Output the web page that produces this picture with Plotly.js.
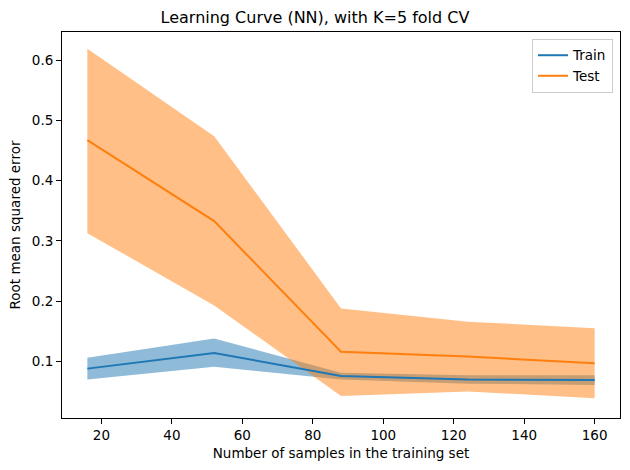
<!DOCTYPE html>
<html>
<head>
<meta charset="utf-8">
<script src="https://cdn.plot.ly/plotly-3.0.1.min.js"></script>
<style>html,body{margin:0;padding:0;background:#fff;}#chart{width:630px;height:470px;}</style>
</head>
<body>
<div id="chart"></div>
<script>
const trainSizes = [16, 52, 88, 124, 160];
const trainMean = [0.088, 0.114, 0.0757, 0.070, 0.069];
const trainUpper = [0.106, 0.138, 0.081, 0.0768, 0.077];
const trainLower = [0.070, 0.091, 0.070, 0.063, 0.061];
const testMean = [0.4675, 0.333, 0.116, 0.108, 0.097];
const testUpper = [0.619, 0.474, 0.188, 0.166, 0.155];
const testLower = [0.313, 0.193, 0.0426, 0.050, 0.039];

const blue = '#1f77b4', orange = '#ff7f0e';
const traces = [
  {x: trainSizes, y: trainLower, mode: 'lines', line: {width: 0, color: blue}, showlegend: false, hoverinfo: 'skip'},
  {x: trainSizes, y: trainUpper, mode: 'lines', line: {width: 0, color: blue}, fill: 'tonexty', fillcolor: 'rgba(31,119,180,0.5)', showlegend: false, hoverinfo: 'skip'},
  {x: trainSizes, y: testLower, mode: 'lines', line: {width: 0, color: orange}, showlegend: false, hoverinfo: 'skip'},
  {x: trainSizes, y: testUpper, mode: 'lines', line: {width: 0, color: orange}, fill: 'tonexty', fillcolor: 'rgba(255,127,14,0.5)', showlegend: false, hoverinfo: 'skip'},
  {x: trainSizes, y: trainMean, mode: 'lines', name: 'Train', line: {width: 2, color: blue}},
  {x: trainSizes, y: testMean, mode: 'lines', name: 'Test', line: {width: 2, color: orange}}
];

const font = {family: 'DejaVu Sans', size: 13.5, color: '#000'};
const layout = {
  width: 630, height: 470,
  margin: {l: 62, r: 10, t: 32, b: 52},
  paper_bgcolor: '#fff', plot_bgcolor: '#fff',
  font: font,
  title: {text: 'Learning Curve (NN), with K=5 fold CV', font: {family: 'DejaVu Sans', size: 16, color: '#000'}, x: 0.5, xanchor: 'center', y: 0.963, yanchor: 'middle'},
  xaxis: {
    range: [8.8, 167.2], tickvals: [20, 40, 60, 80, 100, 120, 140, 160],
    showgrid: false, zeroline: false, showline: true, mirror: true, linecolor: '#000', linewidth: 1,
    ticks: 'outside', ticklen: 5, tickwidth: 1, tickcolor: '#000',
    title: {text: 'Number of samples in the training set', font: font, standoff: 6},
    automargin: false
  },
  yaxis: {
    range: [0.006, 0.647], tickvals: [0.1, 0.2, 0.3, 0.4, 0.5, 0.6], tickformat: '.1f',
    showgrid: false, zeroline: false, showline: true, mirror: true, linecolor: '#000', linewidth: 1,
    ticks: 'outside', ticklen: 5, tickwidth: 1, tickcolor: '#000',
    title: {text: 'Root mean squared error', font: font, standoff: 8},
    automargin: false
  },
  legend: {
    x: 0.9875, y: 0.982, xanchor: 'right', yanchor: 'top', traceorder: 'normal',
    bgcolor: 'rgba(255,255,255,0.8)', bordercolor: '#cccccc', borderwidth: 1,
    font: font, tracegroupgap: 0
  },
  showlegend: true
};

Plotly.newPlot('chart', traces, layout, {displayModeBar: false, staticPlot: true});
</script>
</body>
</html>
